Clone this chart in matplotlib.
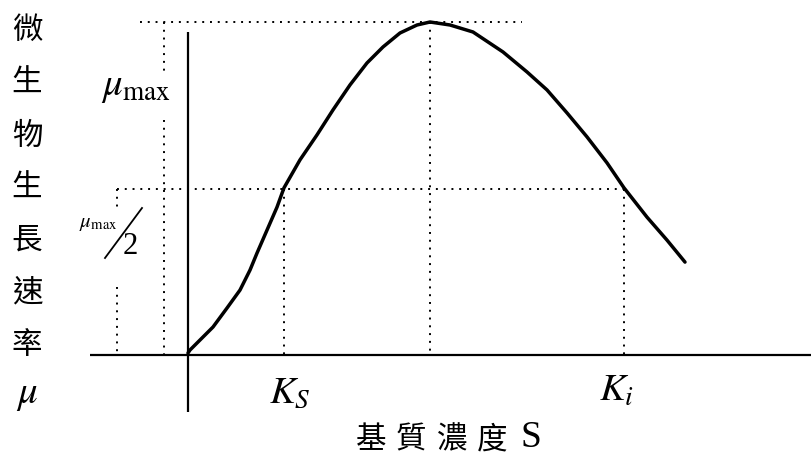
import matplotlib
matplotlib.use("Agg")
import matplotlib.pyplot as plt

plt.rcParams['font.family'] = ['Noto Sans CJK TC', 'DejaVu Sans']
plt.rcParams['mathtext.fontset'] = 'stix'

# Substrate-inhibition growth curve (arbitrary units)
s_curve = [0.00, 0.02, 0.12, 0.25, 0.39, 0.52, 0.62, 0.69, 0.79, 0.89, 0.96,
           1.12, 1.29, 1.45, 1.62, 1.79, 1.95, 2.12, 2.29, 2.42, 2.62, 2.85,
           3.15, 3.39, 3.59, 3.79, 3.99, 4.19, 4.36, 4.59, 4.79, 4.97]
mu_curve = [0.006, 0.015, 0.045, 0.084, 0.141, 0.195, 0.255, 0.306, 0.375,
            0.444, 0.502, 0.586, 0.661, 0.736, 0.811, 0.877, 0.925, 0.967,
            0.991, 1.0, 0.991, 0.970, 0.910, 0.850, 0.796, 0.727, 0.655,
            0.577, 0.502, 0.414, 0.345, 0.279]

mu_max = 1.0
K_S = 0.96
S_peak = 2.42
K_i = 4.36

y_chars = ['微', '生', '物', '生', '長', '速', '率']
x_title_chars = ['基', '質', '濃', '度']

W, H = 812, 462
X0, Y0, SX, SY = 188, 355, 100.0, 333.0


def px(x, y):
    """pixel position -> data coordinates"""
    return (x - X0) / SX, (Y0 - y) / SY


fig = plt.figure(figsize=(W / 100, H / 100), dpi=100)
ax = fig.add_axes([0, 0, 1, 1])
x_lo, y_hi = px(0, 0)
x_hi, y_lo = px(W, H)
ax.set_xlim(x_lo, x_hi)
ax.set_ylim(y_lo, y_hi)
ax.axis('off')

# axes
ax.plot([0, 0], [px(0, 32)[1], px(0, 412)[1]], color='black', lw=1.6,
        solid_capstyle='butt')
ax.plot([px(90, 0)[0], x_hi], [0, 0], color='black', lw=1.6,
        solid_capstyle='butt')

dot = dict(color='black', lw=1.4, linestyle=(0, (1, 3)))
half = mu_max / 2

# guide lines
ax.plot([px(140, 0)[0], px(522, 0)[0]], [mu_max, mu_max], **dot)
ax.plot([px(117, 0)[0], K_i], [half, half], **dot)
xa = px(164, 0)[0]
ax.plot([xa, xa], [mu_max, px(0, 72)[1]], **dot)
ax.plot([xa, xa], [px(0, 120)[1], 0], **dot)
xb = px(117, 0)[0]
ax.plot([xb, xb], [half, px(0, 210)[1]], **dot)
ax.plot([xb, xb], [px(0, 287)[1], 0], **dot)
ax.plot([K_S, K_S], [half, 0], **dot)
ax.plot([S_peak, S_peak], [mu_max, 0], **dot)
ax.plot([K_i, K_i], [half, 0], **dot)

# growth curve
ax.plot(s_curve, mu_curve, color='black', lw=2.5, solid_capstyle='round',
        solid_joinstyle='round')

# vertical axis title
ys = [30, 83, 136, 188, 240, 293, 345]
for ch, yy in zip(y_chars, ys):
    ax.text(*px(27, yy), ch, fontsize=22, ha='center', va='center',
            family=['Noto Sans CJK TC'])
ax.text(*px(27, 393), r'$\mu$', fontsize=28, ha='center', va='center')

# labels
ax.text(*px(101, 85), r'$\mu_{\rm max}$', fontsize=28, ha='left', va='center')
ax.text(*px(79, 222), r'$\mu_{\rm max}$', fontsize=15, ha='left', va='center')
ax.plot([px(105, 0)[0], px(142, 0)[0]], [px(0, 258)[1], px(0, 208)[1]],
        color='black', lw=1.3)
ax.text(*px(130, 247), '2', fontsize=22, ha='center', va='center',
        family=['Liberation Serif'])

ax.text(*px(290, 392), r'$K_S$', fontsize=28, ha='center', va='center')
ax.text(*px(617, 390), r'$K_i$', fontsize=28, ha='center', va='center')

for ch, xx in zip(x_title_chars, [371, 411, 452, 492]):
    ax.text(*px(xx, 440), ch, fontsize=22, ha='center', va='center',
            family=['Noto Sans CJK TC'])
ax.text(*px(531, 438), 'S', fontsize=27, ha='center', va='center',
        family=['Liberation Serif'])

fig.savefig('out.png', dpi=100, facecolor='white')
